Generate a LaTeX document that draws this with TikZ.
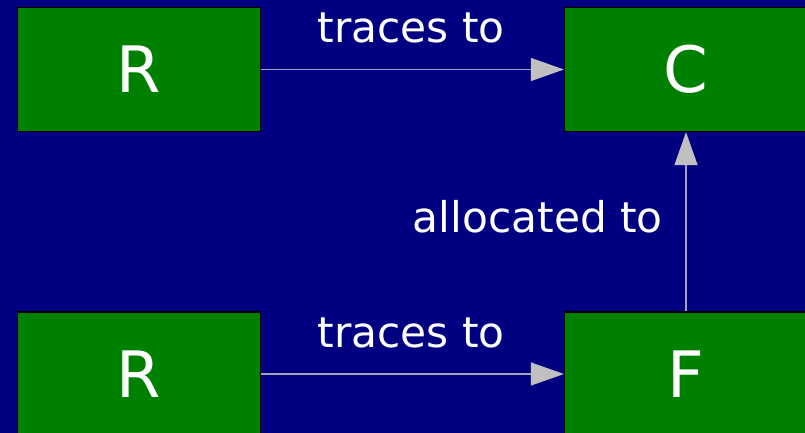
\documentclass[tikz,border=0pt]{standalone}
\usepackage{fontspec}
\setmainfont{DejaVu Sans}
\usetikzlibrary{arrows.meta}
\definecolor{navybg}{HTML}{000080}
\definecolor{boxgreen}{HTML}{008000}
\definecolor{silverline}{HTML}{C0C0C0}
\tikzset{
  block/.style={draw=black, line width=1.2pt, fill=boxgreen, minimum width=243pt,
    minimum height=124pt, inner sep=0pt, text=white, font=\fontsize{64}{64}\selectfont},
  link/.style={draw=silverline!85!navybg, line width=1.2pt,
    -{Triangle[length=33pt,width=23pt,fill=silverline,color=silverline]}},
  tag/.style={text=white, inner sep=0pt, font=\fontsize{42.3}{42.3}\selectfont}
}
\begin{document}
\begin{tikzpicture}[x=1pt,y=-1pt]
  \useasboundingbox (0,0) rectangle (805,433);
  \clip (0,0) rectangle (805,433);
  \fill[navybg] (0,0) rectangle (805,433);

  \node[block] (r1) at (139,69.5) {R};
  \node[block] (c)  at (686,69.5) {C};
  \node[block] (r2) at (139,374) {R};
  \node[block] (f)  at (686,374) {F};

  \draw[link] (r1) -- (c);
  \draw[link] (r2) -- (f);
  \draw[link] (f) -- (c);

  \node[tag, anchor=base] (t1) at (411,43) {traces to};
  \node[tag, anchor=base] (t2) at (411,347) {traces to};
  \node[tag, anchor=base east] (t3) at (663,232) {allocated to};
\end{tikzpicture}
\end{document}
